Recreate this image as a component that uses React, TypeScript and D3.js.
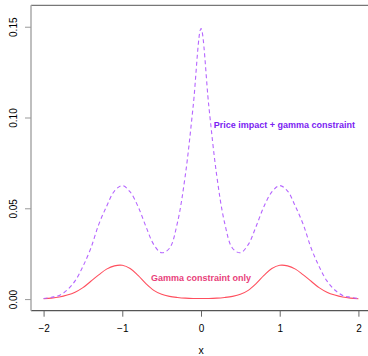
import React, { useEffect, useRef } from "react";
import * as d3 from "d3";

// x grid from -2 to 2, step 0.1
const xs: number[] = d3.range(41).map((i) => -2 + i * 0.1);

// price impact + gamma constraint (dashed)
const priceImpact: number[] = [
  0.0003, 0.001, 0.002, 0.005, 0.01, 0.018, 0.028, 0.041, 0.051, 0.0595,
  0.0625, 0.059, 0.051, 0.04, 0.03, 0.0255, 0.028, 0.042, 0.068, 0.106,
  0.149,
  0.106, 0.068, 0.042, 0.028, 0.0255, 0.03, 0.04, 0.051, 0.059, 0.0625,
  0.0595, 0.051, 0.041, 0.028, 0.018, 0.01, 0.005, 0.002, 0.001, 0.0003,
];

// gamma constraint only (solid)
const gammaOnly: number[] = [
  0.0002, 0.0005, 0.0011, 0.0022, 0.0038, 0.0063, 0.0098, 0.0133, 0.0165, 0.0183,
  0.0186, 0.0168, 0.013, 0.0085, 0.0048, 0.0026, 0.0015, 0.0009, 0.0005, 0.0003,
  0.0003,
  0.0003, 0.0005, 0.0009, 0.0015, 0.0026, 0.0048, 0.0085, 0.013, 0.0168, 0.0186,
  0.0183, 0.0165, 0.0133, 0.0098, 0.0063, 0.0038, 0.0022, 0.0011, 0.0005, 0.0002,
];

const xTicks = [-2, -1, 0, 1, 2];
const yTicks = [0, 0.05, 0.1, 0.15];

const App = () => {
  const svgRef = useRef<SVGSVGElement>(null);

  useEffect(() => {
    const svg = d3.select(svgRef.current);
    svg.selectAll("*").remove();

    const left = 31;
    const right = 371;
    const top = 5.3;
    const bottom = 310.7;

    const x = d3.scaleLinear().domain([-2.16, 2.16]).range([left, right]);
    const y = d3.scaleLinear().domain([-0.0064, 0.1618]).range([bottom, top]);

    // box
    svg.append("line").attr("x1", left).attr("x2", right).attr("y1", top).attr("y2", top)
      .attr("stroke", "#777").attr("stroke-width", 1.2);
    svg.append("line").attr("x1", left).attr("x2", right).attr("y1", bottom).attr("y2", bottom)
      .attr("stroke", "#555").attr("stroke-width", 1.2);
    svg.append("line").attr("x1", left).attr("x2", left).attr("y1", top).attr("y2", bottom)
      .attr("stroke", "#aaa").attr("stroke-width", 1.5);

    // x axis
    const xa = svg.append("g").attr("transform", `translate(0,${bottom})`)
      .call(d3.axisBottom(x).tickValues(xTicks).tickSize(6).tickFormat(d3.format("d")));
    xa.select(".domain").remove();
    xa.selectAll("line").attr("stroke", "#666");
    xa.selectAll("text").attr("dy", 0).attr("y", 21).style("font-size", "10px")
      .style("font-family", "'Liberation Sans', Arial, sans-serif").attr("fill", "#000");

    // y axis
    const ya = svg.append("g").attr("transform", `translate(${left},0)`)
      .call(d3.axisLeft(y).tickValues(yTicks).tickSize(6).tickFormat(d3.format(".2f")));
    ya.select(".domain").remove();
    ya.selectAll("line").attr("stroke", "#999");
    ya.selectAll("text")
      .attr("x", null).attr("dy", null)
      .attr("transform", "translate(-14,0) rotate(-90)")
      .attr("text-anchor", "middle")
      .style("font-size", "10px")
      .style("font-family", "'Liberation Sans', Arial, sans-serif")
      .attr("fill", "#000");

    // x label
    svg.append("text").attr("x", x(0)).attr("y", 354).attr("text-anchor", "middle")
      .style("font-size", "10.5px").style("font-family", "'Liberation Sans', Arial, sans-serif")
      .text("x");

    const line = d3.line<number>()
      .x((_, i) => x(xs[i]))
      .y((d) => y(d))
      .curve(d3.curveCatmullRom.alpha(0.5));

    svg.append("path").datum(gammaOnly).attr("d", line).attr("fill", "none")
      .attr("stroke", "#ff4f5e").attr("stroke-width", 1.1);

    svg.append("path").datum(priceImpact).attr("d", line).attr("fill", "none")
      .attr("stroke", "#b565ff").attr("stroke-width", 1.1).attr("stroke-dasharray", "4,3");

    // labels
    svg.append("text").attr("x", x(1.06)).attr("y", y(0.0962)).attr("dy", "0.35em")
      .attr("text-anchor", "middle").attr("fill", "#7a22f2")
      .style("font-size", "9px").style("font-weight", "bold")
      .style("font-family", "'Liberation Sans', Arial, sans-serif")
      .text("Price impact + gamma constraint");

    svg.append("text").attr("x", x(0)).attr("y", y(0.0118)).attr("dy", "0.35em")
      .attr("text-anchor", "middle").attr("fill", "#e8407a")
      .style("font-size", "9px").style("font-weight", "bold")
      .style("font-family", "'Liberation Sans', Arial, sans-serif")
      .text("Gamma constraint only");
  }, []);

  return (
    <svg ref={svgRef} width={368} height={356}
      style={{ position: "absolute", left: 0, top: 0, background: "#fff" }} />
  );
};

export default App;
